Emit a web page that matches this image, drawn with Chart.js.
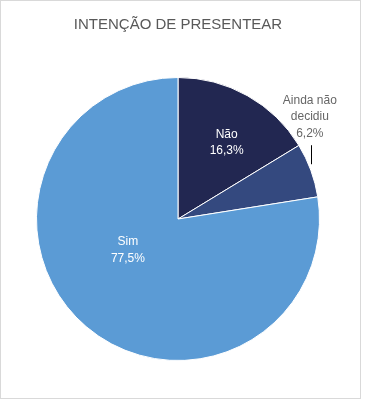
<!DOCTYPE html>
<html>
<head>
<meta charset="utf-8">
<script src="https://cdn.jsdelivr.net/npm/chart.js@4"></script>
<style>
  body { margin: 0; background: #fff; }
  #moldura {
    position: absolute; left: 0; top: 0;
    width: 359px; height: 397px;
    border: 1px solid #d9d9d9;
  }
</style>
</head>
<body>
<div id="moldura"><canvas id="grafico" width="359" height="397"></canvas></div>
<script>
// Dados: intenção de presentear (%)
const categorias = ['Não', 'Ainda não decidiu', 'Sim'];
const valores = [16.3, 6.2, 77.5];
const rotulos = [['Não', '16,3%'], ['Ainda não', 'decidiu', '6,2%'], ['Sim', '77,5%']];
const cores = ['#222751', '#34497f', '#5b9bd5'];

// Plugin simples para escrever os rótulos de cada fatia
const rotulosFatias = {
    id: 'rotulosFatias',
    afterDatasetsDraw(chart) {
        const ctx = chart.ctx;
        const arcos = chart.getDatasetMeta(0).data;
        ctx.save();
        ctx.font = '12px "Liberation Sans", Arial, sans-serif';
        ctx.textAlign = 'center';
        ctx.textBaseline = 'middle';
        arcos.forEach((arco, i) => {
            const { x, y, startAngle, endAngle, outerRadius } = arco.getProps(['x', 'y', 'startAngle', 'endAngle', 'outerRadius'], true);
            const meio = (startAngle + endAngle) / 2;
            const linhas = rotulos[i];
            if (i === 1) {
                // fatia pequena: rótulo fora, com linha de ligação
                const bx = x + Math.cos(meio) * outerRadius;
                const by = y + Math.sin(meio) * outerRadius;
                ctx.strokeStyle = '#000';
                ctx.lineWidth = 1;
                ctx.beginPath();
                ctx.moveTo(Math.round(bx) + 0.5, by - 6);
                ctx.lineTo(Math.round(bx) + 0.5, by - 25);
                ctx.stroke();
                ctx.fillStyle = '#666666';
                linhas.forEach((t, k) => ctx.fillText(t, bx - 1, by - 70 + k * 16.5));
            } else {
                let px, py;
                if (i === 0) {
                    px = x + Math.cos(meio) * outerRadius * 0.63 + 5;
                    py = y + Math.sin(meio) * outerRadius * 0.63 + 1;
                } else {
                    px = x + Math.cos(meio) * outerRadius * 0.36 - 17;
                    py = y + Math.sin(meio) * outerRadius * 0.36 - 8;
                }
                ctx.fillStyle = '#ffffff';
                linhas.forEach((t, k) => ctx.fillText(t, px, py - 8 + k * 16.5));
            }
        });
        ctx.restore();
    }
};

new Chart(document.getElementById('grafico').getContext('2d'), {
    type: 'pie',
    data: {
        labels: categorias,
        datasets: [{
            data: valores,
            backgroundColor: cores,
            borderColor: '#ffffff',
            borderWidth: 1
        }]
    },
    options: {
        responsive: false,
        animation: false,
        layout: {
            padding: { left: 35, right: 40, top: 0, bottom: 37 }
        },
        plugins: {
            legend: { display: false },
            tooltip: { enabled: false },
            title: {
                display: true,
                text: 'INTENÇÃO DE PRESENTEAR',
                color: '#595959',
                font: { family: '"Liberation Sans", Arial, sans-serif', size: 15, weight: 'normal' },
                padding: { top: 15, bottom: 43 }
            }
        }
    },
    plugins: [rotulosFatias]
});
</script>
</body>
</html>
